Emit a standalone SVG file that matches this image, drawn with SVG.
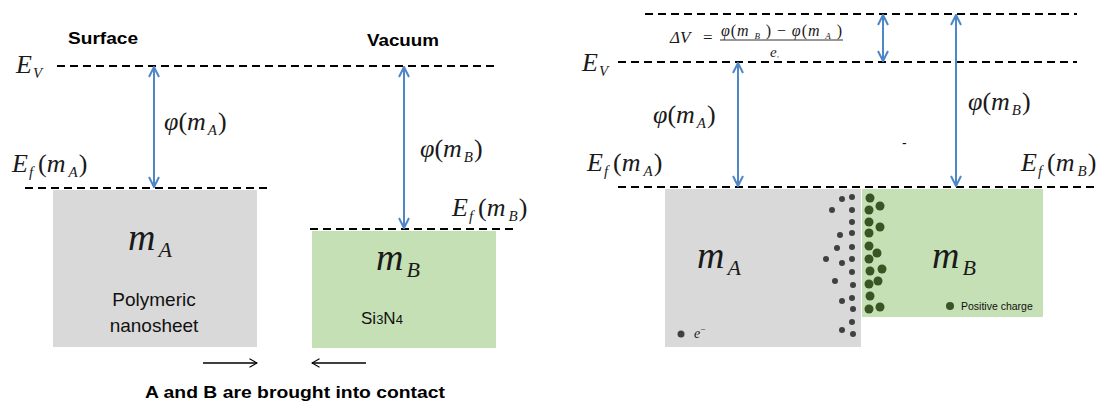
<svg xmlns="http://www.w3.org/2000/svg" width="1114" height="404" viewBox="0 0 1114 404">
<style>
.dash{stroke:#000;stroke-width:2;stroke-dasharray:8 5;fill:none}
.blue{stroke:#4f86c6;stroke-width:2;fill:none;marker-start:url(#ah);marker-end:url(#ah)}
.blk{stroke:#000;stroke-width:1.3;fill:none;marker-end:url(#bk)}
.m{font-family:'Liberation Serif','Times New Roman','DejaVu Serif',serif;font-style:italic;fill:#1a1a1a}
.u{font-style:normal}
.bold{font-family:'Liberation Sans',Arial,sans-serif;font-weight:bold;fill:#000}
.sans{font-family:'Liberation Sans',Arial,sans-serif;fill:#111}
.gray{fill:#d9d9d9}
.green{fill:#c5e0b4}
.e{fill:#404040}
.p{fill:#375623}
</style>
<defs>
<marker id="ah" viewBox="0 0 12 12" refX="11" refY="6" markerWidth="12" markerHeight="12" markerUnits="userSpaceOnUse" orient="auto-start-reverse">
<path d="M1,1 L11,6 L1,11" fill="none" stroke="#4f86c6" stroke-width="2"/>
</marker>
<marker id="bk" viewBox="0 0 12 12" refX="11" refY="6" markerWidth="10" markerHeight="10" markerUnits="userSpaceOnUse" orient="auto">
<path d="M2,1 L11,6 L2,11" fill="none" stroke="#000" stroke-width="1.3"/>
</marker>
</defs>

<!-- LEFT PANEL -->
<g id="left-labels">
<text class="bold" x="68" y="44" font-size="16" textLength="70" lengthAdjust="spacingAndGlyphs">Surface</text>
<text class="bold" x="367" y="46" font-size="16" textLength="72" lengthAdjust="spacingAndGlyphs">Vacuum</text>
<g class="m" font-family="Liberation Serif, serif" font-style="italic">
<text x="16" y="73" font-size="26">E<tspan font-size="15" dy="5" dx="1">V</tspan></text>
<text x="12" y="172" font-size="26">E<tspan font-size="15" dy="5" dx="1">f</tspan><tspan class="u" dy="-5" dx="5">(</tspan>m<tspan font-size="15" dy="5" dx="3">A</tspan><tspan class="u" dy="-5" dx="1">)</tspan></text>
<text x="164" y="130" font-size="26">φ<tspan class="u">(</tspan>m<tspan font-size="15" dy="5" dx="2">A</tspan><tspan class="u" dy="-5" dx="1">)</tspan></text>
<text x="420" y="157" font-size="26">φ<tspan class="u">(</tspan>m<tspan font-size="15" dy="5" dx="2">B</tspan><tspan class="u" dy="-5" dx="1">)</tspan></text>
<text x="452" y="216" font-size="26">E<tspan font-size="15" dy="5" dx="1">f</tspan><tspan class="u" dy="-5" dx="5">(</tspan>m<tspan font-size="15" dy="5" dx="3">B</tspan><tspan class="u" dy="-5" dx="1">)</tspan></text>
</g>
<text class="bold" x="145" y="398" font-size="17" textLength="300" lengthAdjust="spacingAndGlyphs">A and B are brought into contact</text>
</g>

<g id="left-levels">
<line class="dash" x1="57" y1="66" x2="497" y2="66"/>
<line class="dash" x1="25" y1="188" x2="270" y2="188"/>
<line class="dash" x1="310" y1="229" x2="518" y2="229"/>
</g>

<g id="node-mA-left">
<rect class="gray" x="53" y="190" width="204" height="157"/>
<text class="m" font-family="Liberation Serif, serif" font-style="italic" x="128" y="250" font-size="38">m<tspan font-size="22" dy="7" dx="3">A</tspan></text>
<text class="sans" x="154" y="306" font-size="19" text-anchor="middle">Polymeric</text>
<text class="sans" x="154" y="332" font-size="19" text-anchor="middle">nanosheet</text>
</g>

<g id="node-mB-left">
<rect class="green" x="312" y="231" width="184" height="117"/>
<text class="m" font-family="Liberation Serif, serif" font-style="italic" x="376" y="270" font-size="38">m<tspan font-size="22" dy="7" dx="3">B</tspan></text>
<text class="sans" x="361" y="324" font-size="17">Si<tspan font-size="13">3</tspan>N<tspan font-size="13">4</tspan></text>
</g>

<!-- RIGHT PANEL -->
<g id="right-labels">
<g class="m" font-family="Liberation Serif, serif" font-style="italic">
<text x="670" y="43" font-size="17">ΔV</text>
<text class="u" x="703" y="43" font-size="17">=</text>
<text x="721" y="36" font-size="16" textLength="121" lengthAdjust="spacing">φ<tspan class="u">(</tspan>m <tspan font-size="9" dy="3">B</tspan><tspan class="u" dy="-3"> ) − </tspan>φ<tspan class="u">(</tspan>m <tspan font-size="9" dy="3">A</tspan><tspan class="u" dy="-3"> )</tspan></text>
<text x="770" y="57" font-size="15">e<tspan font-size="7" dy="2" class="u">◦</tspan></text>
<text x="582" y="71" font-size="26">E<tspan font-size="15" dy="5" dx="1">V</tspan></text>
<text x="587" y="171" font-size="26">E<tspan font-size="15" dy="5" dx="1">f</tspan><tspan class="u" dy="-5" dx="5">(</tspan>m<tspan font-size="15" dy="5" dx="3">A</tspan><tspan class="u" dy="-5" dx="1">)</tspan></text>
<text x="653" y="123" font-size="26">φ<tspan class="u">(</tspan>m<tspan font-size="15" dy="5" dx="2">A</tspan><tspan class="u" dy="-5" dx="1">)</tspan></text>
<text x="968" y="110" font-size="26">φ<tspan class="u">(</tspan>m<tspan font-size="15" dy="5" dx="2">B</tspan><tspan class="u" dy="-5" dx="1">)</tspan></text>
<text x="1021" y="171" font-size="26">E<tspan font-size="15" dy="5" dx="1">f</tspan><tspan class="u" dy="-5" dx="5">(</tspan>m<tspan font-size="15" dy="5" dx="3">B</tspan><tspan class="u" dy="-5" dx="1">)</tspan></text>
</g>
<line x1="720" y1="40" x2="843" y2="40" stroke="#333" stroke-width="1"/>
<text class="sans" x="902" y="148" font-size="14">-</text>
</g>

<g id="right-levels">
<line class="dash" x1="645" y1="14" x2="1077" y2="14"/>
<line class="dash" x1="618" y1="62" x2="1077" y2="62"/>
<line class="dash" x1="618" y1="187" x2="1097" y2="187"/>
</g>

<g id="node-mA-right">
<rect class="gray" x="665" y="189" width="196" height="158"/>
<text class="m" font-family="Liberation Serif, serif" font-style="italic" x="697" y="268" font-size="38">m<tspan font-size="22" dy="7" dx="3">A</tspan></text>
<circle class="e" cx="681" cy="334" r="3.5"/>
<text class="m" font-family="Liberation Serif, serif" font-style="italic" x="694" y="338" font-size="14" fill="#404040">e<tspan font-size="9" dy="-6" class="u">−</tspan></text>
<g class="e">
<circle cx="842" cy="199" r="3"/><circle cx="852" cy="197" r="3"/>
<circle cx="832" cy="210" r="3"/><circle cx="852" cy="210" r="3"/>
<circle cx="852" cy="222" r="3"/><circle cx="840" cy="235" r="3"/>
<circle cx="852" cy="233" r="3"/><circle cx="837" cy="248" r="3"/>
<circle cx="852" cy="247" r="3"/><circle cx="826" cy="259" r="3"/>
<circle cx="842" cy="263" r="3"/><circle cx="852" cy="259" r="3"/>
<circle cx="835" cy="281" r="3"/><circle cx="852" cy="272" r="3"/>
<circle cx="853" cy="285" r="3"/><circle cx="842" cy="301" r="3"/>
<circle cx="852" cy="298" r="3"/><circle cx="853" cy="309" r="3"/>
<circle cx="852" cy="322" r="3"/><circle cx="842" cy="330" r="3"/>
<circle cx="853" cy="334" r="3"/>
</g>
</g>

<g id="node-mB-right">
<rect class="green" x="862" y="189" width="181" height="128"/>
<text class="m" font-family="Liberation Serif, serif" font-style="italic" x="932" y="268" font-size="38">m<tspan font-size="22" dy="7" dx="3">B</tspan></text>
<g class="p">
<circle cx="870" cy="198" r="4.5"/><circle cx="880" cy="206" r="4.5"/>
<circle cx="869" cy="210" r="4.5"/><circle cx="869" cy="222" r="4.5"/>
<circle cx="880" cy="227" r="4.5"/><circle cx="869" cy="233" r="4.5"/>
<circle cx="869" cy="246" r="4.5"/><circle cx="877" cy="253" r="4.5"/>
<circle cx="869" cy="259" r="4.5"/><circle cx="882" cy="269" r="4.5"/>
<circle cx="870" cy="271" r="4.5"/><circle cx="878" cy="281" r="4.5"/>
<circle cx="869" cy="284" r="4.5"/><circle cx="870" cy="296" r="4.5"/>
<circle cx="880" cy="307" r="4.5"/><circle cx="869" cy="309" r="4.5"/>
<circle cx="950" cy="306" r="4"/>
</g>
<text class="sans" x="961" y="310" font-size="10.5" fill="#44603a">Positive charge</text>
</g>

<g id="connectors">
<line class="blue" x1="154" y1="67" x2="154" y2="187"/>
<line class="blue" x1="404" y1="67" x2="404" y2="228"/>
<line class="blue" x1="738" y1="63" x2="738" y2="186"/>
<line class="blue" x1="883" y1="15" x2="883" y2="61"/>
<line class="blue" x1="956" y1="15" x2="956" y2="186"/>
<line class="blk" x1="203" y1="363" x2="257" y2="363"/>
<line class="blk" x1="366" y1="363" x2="312" y2="363"/>
</g>
</svg>
